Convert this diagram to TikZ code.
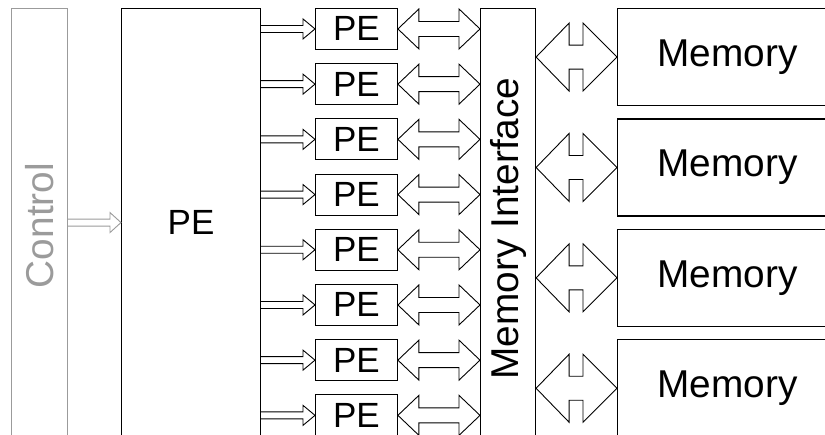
\documentclass[tikz,border=0pt]{standalone}
\usepackage{fontspec}
\usepackage{graphicx}
\setmainfont{Liberation Sans}
\usetikzlibrary{calc}
\definecolor{ctrlgray}{RGB}{155,155,155}
\begin{document}
\begin{tikzpicture}[x=1pt,y=-1pt,
  box/.style={draw=black, line width=1.1pt, inner sep=0pt, anchor=north west},
  cbox/.style={draw=ctrlgray, text=ctrlgray, line width=1.1pt, inner sep=0pt, anchor=north west},
  arr/.style={draw=black, line width=0.9pt, fill=white, line join=miter},
  carr/.style={draw=ctrlgray, line width=0.9pt, fill=white, line join=miter},
  big/.style={font=\fontsize{38.8}{42}\selectfont},
  small/.style={font=\fontsize{35}{38}\selectfont}
]
\useasboundingbox (0,0) rectangle (825,434);
\clip (0,0) rectangle (825,434);

% boxes
\node[cbox, big, minimum width=56pt, minimum height=428pt] (ctrl) at (11,8) {\rotatebox{90}{Control\kern6pt}};
\node[box, small, minimum width=139pt, minimum height=428pt] (bigpe) at (121,8) {PE};
\foreach \i in {0,...,7}
  \node[box, small, line width=0.9pt, minimum width=82pt, minimum height=41pt] (pe\i) at (315,{8+55.2*\i}) {PE};
\node[box, big, minimum width=55pt, minimum height=428pt] (mi) at (480,8) {\rotatebox{90}{Memory Interface\kern12pt}};
\foreach \j in {0,...,3}
  \node[box, big, minimum width=220pt, minimum height=97pt] (mem\j) at (617,{8+110.4*\j}) {Memory};

% control arrow
\draw[carr] ($(ctrl.east)+(0,-3.5)$) -- ($(bigpe.west |- ctrl.east)+(-11,-3.5)$) -- ++(0,-6.5)
  -- (bigpe.west |- ctrl.east) -- ++(-11,10) -- ++(0,-6.5) -- ($(ctrl.east)+(0,3.5)$);

% PE -> small PE arrows, small PE <-> memory interface arrows
\foreach \i in {0,...,7} {
  \draw[arr] ($(bigpe.east |- pe\i.west)+(0,-3.5)$) -- ($(pe\i.west)+(-12,-3.5)$) -- ++(0,-6.5)
    -- (pe\i.west) -- ++(-12,10) -- ++(0,-6.5) -- ($(bigpe.east |- pe\i.west)+(0,3.5)$);
  \draw[arr] (pe\i.east) -- ++(21,-20) -- ++(0,12.5) -- ($(mi.west |- pe\i.east)+(-21,-7.5)$)
    -- ++(0,-12.5) -- (mi.west |- pe\i.east) -- ++(-21,20) -- ++(0,-12.5)
    -- ($(pe\i.east)+(21,7.5)$) -- ++(0,12.5) -- cycle;
}

% memory interface <-> memory arrows
\foreach \j in {0,...,3} {
  \draw[arr] (mi.east |- mem\j.west) -- ++(33,-34) -- ++(0,22) -- ($(mem\j.west)+(-34,-12)$)
    -- ++(0,-22) -- (mem\j.west) -- ++(-34,34) -- ++(0,-22)
    -- ($(mi.east |- mem\j.west)+(33,12)$) -- ++(0,22) -- cycle;
}
\end{tikzpicture}
\end{document}
